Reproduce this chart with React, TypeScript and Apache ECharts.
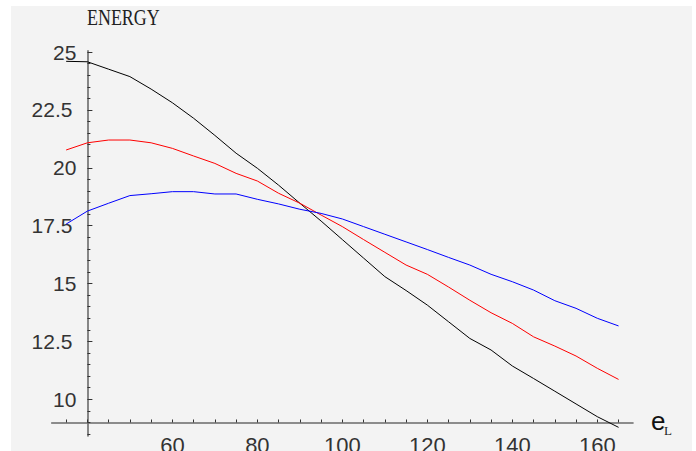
import React, { useEffect, useRef } from "react";
import * as echarts from "echarts";

const xValues = [35, 40, 45, 50, 55, 60, 65, 70, 75, 80, 85, 90, 95, 100, 105, 110, 115, 120, 125, 130, 135, 140, 145, 150, 155, 160, 165];
const blackEnergy = [24.6, 24.58, 24.26, 23.94, 23.4, 22.81, 22.14, 21.4, 20.63, 19.98, 19.25, 18.47, 17.7, 16.9, 16.1, 15.3, 14.7, 14.07, 13.35, 12.63, 12.13, 11.44, 10.9, 10.35, 9.8, 9.25, 8.79];
const redEnergy = [20.77, 21.08, 21.2, 21.2, 21.08, 20.84, 20.51, 20.19, 19.76, 19.43, 18.9, 18.47, 17.96, 17.46, 16.9, 16.35, 15.8, 15.4, 14.85, 14.28, 13.74, 13.28, 12.7, 12.3, 11.87, 11.34, 10.86];
const blueEnergy = [17.57, 18.13, 18.47, 18.8, 18.88, 18.97, 18.97, 18.87, 18.87, 18.64, 18.44, 18.21, 18.03, 17.79, 17.46, 17.13, 16.8, 16.47, 16.13, 15.8, 15.4, 15.08, 14.72, 14.26, 13.93, 13.5, 13.17];

const xTickLabels = [60, 80, 100, 120, 140, 160];
const xTicks = [35, 40, 45, 50, 55, 60, 65, 70, 75, 80, 85, 90, 95, 100, 105, 110, 115, 120, 125, 130, 135, 140, 145, 150, 155, 160, 165];
const yTickLabels = [10, 12.5, 15, 17.5, 20, 22.5, 25];
const yMinorTicks = [8.5, 9, 9.5, 10.5, 11, 11.5, 12, 13, 13.5, 14, 14.5, 15.5, 16, 16.5, 17, 18, 18.5, 19, 19.5, 20.5, 21, 21.5, 22, 23, 23.5, 24, 24.5];

const X_MIN = 31.6;
const X_MAX = 168.4;
const Y_MIN = 8.42;
const Y_MAX = 25.05;
const X_CROSS = 40;
const Y_CROSS = 9;

const GRID = { left: 51.7, top: 50.9, width: 581.3, height: 385 };
const FONT = "'Liberation Sans', Arial, sans-serif";
const AXIS_COLOR = "#6a6a6a";
const TEXT_COLOR = "#333";

export default function App() {
  const ref = useRef<HTMLDivElement>(null);

  useEffect(() => {
    if (!ref.current) return;
    const chart = echarts.init(ref.current, null, { renderer: "svg" });
    const yOffset = -((X_CROSS - X_MIN) / (X_MAX - X_MIN)) * GRID.width;
    const xOffset = -((Y_CROSS - Y_MIN) / (Y_MAX - Y_MIN)) * GRID.height;

    const mk = (name: string, vals: number[], color: string) => ({
      name,
      type: "line",
      xAxisIndex: 0,
      yAxisIndex: 0,
      data: xValues.map((x, i) => [x, vals[i]]),
      showSymbol: false,
      symbol: "none",
      clip: false,
      lineStyle: { color, width: 1 },
      z: 3,
    });

    chart.setOption({
      animation: false,
      backgroundColor: "#ffffff",
      graphic: [
        {
          type: "rect",
          shape: { x: 11, y: 6, width: 681, height: 450 },
          style: { fill: "#f3f3f3" },
          z: -100,
          silent: true,
        },
        {
          type: "text",
          x: 87,
          y: 6,
          scaleX: 0.78,
          style: {
            text: "ENERGY",
            font: "23px 'Liberation Serif', serif",
            fill: "#222",
            textVerticalAlign: "top",
          },
        },
        {
          type: "text",
          x: 651,
          y: 421,
          style: {
            text: "e",
            font: "26px 'Liberation Sans', Arial, sans-serif",
            fill: "#111",
            textVerticalAlign: "middle",
          },
        },
        {
          type: "text",
          x: 664,
          y: 430,
          style: {
            text: "L",
            font: "13px 'Liberation Serif', serif",
            fill: "#222",
            textVerticalAlign: "middle",
          },
        },
      ],
      grid: { ...GRID, outerBoundsMode: "none", containLabel: false },
      xAxis: [
        {
          type: "value",
          min: X_MIN,
          max: X_MAX,
          position: "bottom",
          offset: xOffset,
          axisLine: { show: true, onZero: false, lineStyle: { color: AXIS_COLOR, width: 1.6 } },
          axisTick: { show: true, inside: true, length: 3, customValues: xTicks, lineStyle: { color: "#333", width: 1 } },
          axisLabel: {
            show: true,
            customValues: xTickLabels,
            margin: 12,
            fontSize: 22,
            fontFamily: FONT,
            color: TEXT_COLOR,
          },
          splitLine: { show: false },
        },
      ],
      yAxis: [
        {
          type: "value",
          min: Y_MIN,
          max: Y_MAX,
          position: "left",
          offset: yOffset,
          axisLine: { show: true, onZero: false, lineStyle: { color: AXIS_COLOR, width: 1.6 } },
          axisTick: { show: true, inside: true, length: 5, customValues: yTickLabels, lineStyle: { color: "#333", width: 1 } },
          axisLabel: {
            show: true,
            customValues: yTickLabels,
            margin: 11,
            formatter: (v: number) => (Number.isInteger(v) ? `{i|${v}}` : `{d|${v}}`),
            rich: {
              i: { fontSize: 21, fontFamily: FONT, color: TEXT_COLOR },
              d: { fontSize: 21, fontFamily: FONT, color: TEXT_COLOR, padding: [0, 4, 0, 0] },
            },
          },
          splitLine: { show: false },
        },
        {
          type: "value",
          min: Y_MIN,
          max: Y_MAX,
          position: "left",
          offset: yOffset,
          axisLine: { show: false, onZero: false },
          axisTick: { show: true, inside: true, length: 3, customValues: yMinorTicks, lineStyle: { color: "#333", width: 1 } },
          axisLabel: { show: false },
          splitLine: { show: false },
        },
      ],
      series: [
        mk("black", blackEnergy, "#000000"),
        mk("red", redEnergy, "#ff0000"),
        mk("blue", blueEnergy, "#0000ff"),
      ],
    });
    return () => chart.dispose();
  }, []);

  return (
    <div
      ref={ref}
      style={{ position: "fixed", left: 0, top: 0, width: 696, height: 451 }}
    />
  );
}
